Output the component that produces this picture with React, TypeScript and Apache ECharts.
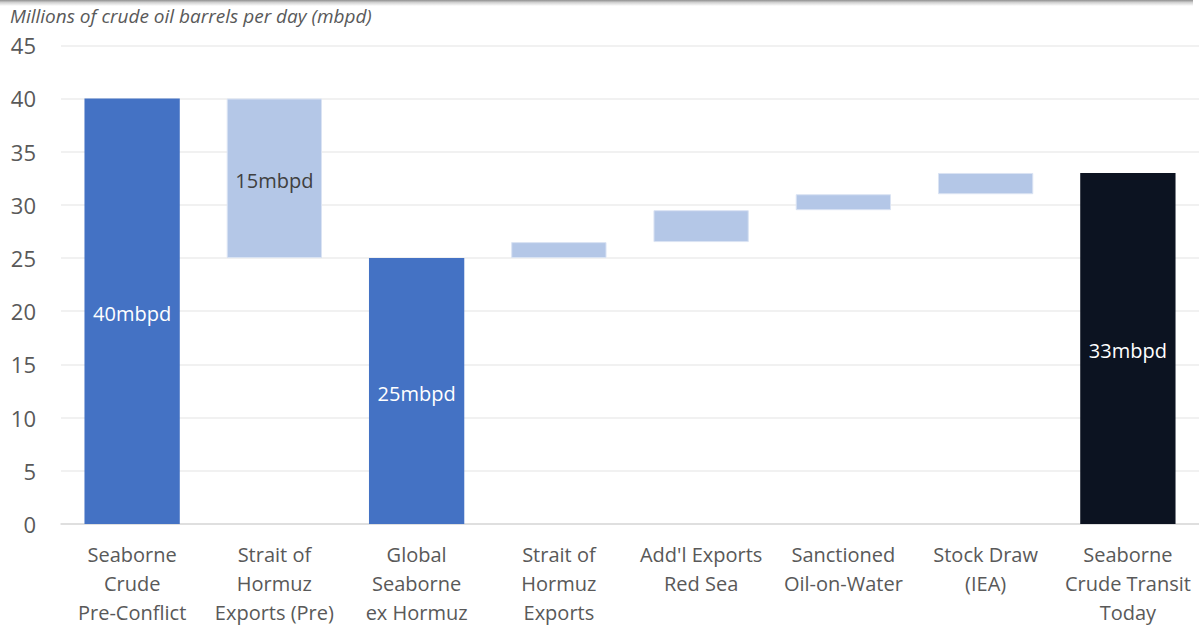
import React, { useEffect, useRef } from "react";
import * as echarts from "echarts";

const categories = [
  "Seaborne\nCrude\nPre-Conflict",
  "Strait of\nHormuz\nExports (Pre)",
  "Global\nSeaborne\nex Hormuz",
  "Strait of\nHormuz\nExports",
  "Add'l Exports\nRed Sea",
  "Sanctioned\nOil-on-Water",
  "Stock Draw\n(IEA)",
  "Seaborne\nCrude Transit\nToday",
];
const baseValues = [0, 25, 0, 25, 26.5, 29.5, 31, 0];
const barValues = [40, 15, 25, 1.5, 3, 1.5, 2, 33];
const barLabels = ["40mbpd", "15mbpd", "25mbpd", "", "", "", "", "33mbpd"];
const barKinds = ["total", "step", "total", "step", "step", "step", "step", "final"];
const yTicks = { min: 0, max: 45, interval: 5 };

const FONT = "'Open Sans', 'Noto Sans', sans-serif";

export default function App() {
  const ref = useRef<HTMLDivElement>(null);
  useEffect(() => {
    if (!ref.current) return;
    const chart = echarts.init(ref.current, null, { renderer: "svg" });
    const colorFor = (k: string) =>
      k === "total" ? "#4472C4" : k === "final" ? "#0C1321" : "#B4C7E7";
    chart.setOption({
      animation: false,
      backgroundColor: "#ffffff",
      textStyle: { fontFamily: FONT },
      graphic: [
        {
          type: "rect",
          left: 0,
          top: 0,
          shape: { x: 0, y: 0, width: 1193, height: 6 },
          style: {
            fill: new echarts.graphic.LinearGradient(0, 0, 0, 1, [
              { offset: 0, color: "#8f8f8f" },
              { offset: 0.4, color: "#cfcfcf" },
              { offset: 1, color: "#ffffff" },
            ]),
          },
          silent: true,
        },
        {
          type: "text",
          left: 10,
          top: 6,
          style: {
            text: "Millions of crude oil barrels per day (mbpd)",
            font: `italic 19px ${FONT}`,
            fill: "#595959",
          },
        },
      ],
      grid: { left: 61, right: 0, top: 45.3, bottom: 101, containLabel: false },
      xAxis: {
        type: "category",
        data: categories,
        axisLine: { show: true, lineStyle: { color: "#D9D9D9", width: 1.5 } },
        axisTick: { show: false },
        axisLabel: {
          color: "#595959",
          fontSize: 20,
          lineHeight: 29,
          margin: 16,
          interval: 0,
          fontFamily: FONT,
        },
      },
      yAxis: {
        type: "value",
        min: yTicks.min,
        max: yTicks.max,
        interval: yTicks.interval,
        axisLine: { show: false },
        axisTick: { show: false },
        splitLine: { lineStyle: { color: "#EDEDED", width: 1.5 } },
        axisLabel: { color: "#595959", fontSize: 22, margin: 25, fontFamily: FONT },
      },
      series: [
        {
          type: "bar",
          stack: "w",
          data: baseValues,
          itemStyle: { color: "transparent" },
          barWidth: "67%",
          silent: true,
        },
        {
          type: "bar",
          stack: "w",
          barWidth: "67%",
          data: barValues.map((v, i) => ({
            value: v,
            itemStyle: {
              color: colorFor(barKinds[i]),
              borderColor: barKinds[i] === "step" ? "#DAE3F3" : colorFor(barKinds[i]),
              borderWidth: barKinds[i] === "step" ? 1 : 0,
            },
            label: {
              show: barLabels[i] !== "",
              formatter: barLabels[i],
              position: "inside",
              offset: [0, 2],
              color: barKinds[i] === "step" ? "#404040" : "#ffffff",
              fontSize: 20,
              fontFamily: FONT,
            },
          })),
        },
      ],
    });
    return () => chart.dispose();
  }, []);
  return (
    <div
      ref={ref}
      style={{ position: "fixed", left: 0, top: 0, width: 1199, height: 627 }}
    />
  );
}
